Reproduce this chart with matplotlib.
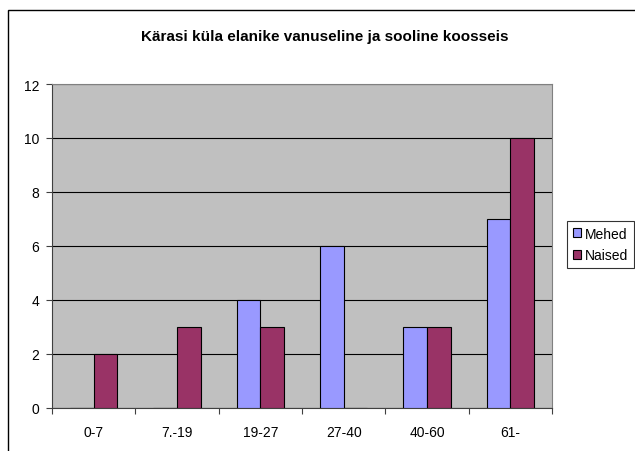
import numpy as np
import matplotlib.pyplot as plt
from matplotlib.patches import Rectangle

plt.rcParams["font.family"] = ["Liberation Sans", "DejaVu Sans"]

categories = ["0-7", "7.-19", "19-27", "27-40", "40-60", "61-"]
mehed = [0, 0, 4, 6, 3, 7]
naised = [2, 3, 3, 0, 3, 10]
yticks = [0, 2, 4, 6, 8, 10, 12]

W, H = 635, 452
fig = plt.figure(figsize=(W / 100, H / 100), dpi=100)

# outer chart frame (runs off the right and bottom edge)
fig.patches.append(Rectangle((8 / W, -0.05), 1.1, 1 - 11 / H + 0.05,
                             transform=fig.transFigure, fill=False,
                             edgecolor="black", linewidth=1.0))

ax = fig.add_axes([52 / W, 1 - 409 / H, 500 / W, 324 / H])
ax.set_facecolor("#C0C0C0")

x = np.arange(len(categories))
bw = 1 / 3.5
ax.bar(x - bw / 2, mehed, bw, color="#9999FF", edgecolor="black",
       linewidth=0.8, label="Mehed", zorder=3)
ax.bar(x + bw / 2, naised, bw, color="#993366", edgecolor="black",
       linewidth=0.8, label="Naised", zorder=3)

ax.set_xlim(-0.5, len(categories) - 0.5)
ax.set_ylim(0, 12)
ax.set_yticks(yticks)
ax.set_yticklabels([str(v) for v in yticks], fontsize=10)
ax.yaxis.grid(True, color="black", linewidth=0.8, zorder=1)
ax.set_axisbelow(True)

ax.set_xticks(x)
ax.set_xticklabels(categories, fontsize=10)
ax.set_xticks(np.arange(len(categories) + 1) - 0.5, minor=True)
ax.tick_params(axis="x", which="major", length=0, pad=12)
ax.tick_params(axis="x", which="minor", length=4, color="#404040", width=0.8)
ax.tick_params(axis="y", length=4, color="#404040", width=0.8, pad=5)

for side in ["top", "right"]:
    ax.spines[side].set_color("#808080")
    ax.spines[side].set_linewidth(0.8)
for side in ["left", "bottom"]:
    ax.spines[side].set_color("#404040")
    ax.spines[side].set_linewidth(0.8)

fig.text(325 / W, 1 - 37 / H, "Kärasi küla elanike vanuseline ja sooline koosseis",
         ha="center", va="center", fontsize=11, fontweight="bold")

leg = fig.legend(loc="upper left", bbox_to_anchor=(567 / W, 1 - 222 / H),
                 fontsize=10, frameon=True, fancybox=False, handlelength=0.6,
                 handleheight=0.6, handletextpad=0.3, borderpad=0.4,
                 labelspacing=0.55, borderaxespad=0)
leg.get_frame().set_edgecolor("black")
leg.get_frame().set_linewidth(0.8)

plt.savefig("out.png", dpi=100)
